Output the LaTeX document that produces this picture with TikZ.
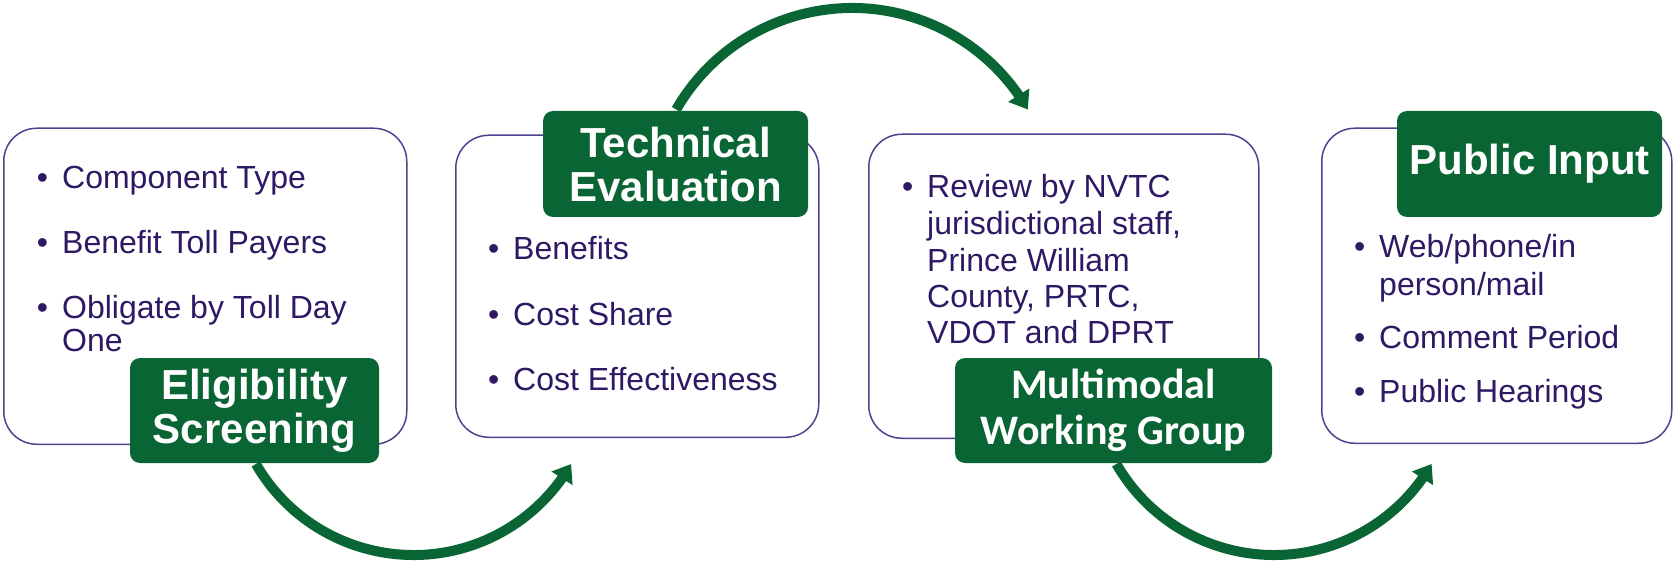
\documentclass[tikz,border=0pt]{standalone}
\usepackage{fontspec}
\setmainfont{Liberation Sans}
\newfontfamily\calfont{Carlito}
\usetikzlibrary{arrows.meta,bending}
\definecolor{grn}{RGB}{10,101,52}
\definecolor{txtpurple}{RGB}{46,26,100}
\definecolor{edgepurple}{RGB}{82,64,142}
\newcommand\bul{\llap{•\hspace{14pt}}}
\begin{document}
\begin{tikzpicture}[x=1pt,y=1pt,
  panel/.style={draw=edgepurple,line width=1.5pt,fill=white,rounded corners=33pt,anchor=south west,inner sep=0pt},
  tag/.style={fill=grn,rounded corners=10pt,text=white,align=center,inner sep=0pt,
    font=\fontsize{42}{44}\selectfont\bfseries},
  body/.style={text=txtpurple,font=\fontsize{32}{32}\selectfont,anchor=base west,inner sep=0pt},
  flow/.style={draw=grn,line width=10pt,-{Triangle[width=24pt,length=17pt]}}]
\useasboundingbox (0,0) rectangle (1673,563);

% panels
\node[panel,minimum width=403pt,minimum height=316pt] (p1) at (3,118) {};
\node[panel,minimum width=363pt,minimum height=302pt] (p2) at (455,125) {};
\node[panel,minimum width=390pt,minimum height=304pt] (p3) at (868,124) {};
\node[panel,minimum width=350pt,minimum height=315pt] (p4) at (1321,119) {};

% connectors
\coordinate (a1s) at (255.9,99);
\coordinate (a2s) at (676.2,453.5);
\coordinate (a3s) at (1116.4,99);
\draw[flow] (a1s) arc[start angle=210,end angle=330,radius=182];
\draw[flow] (a2s) arc[start angle=150,end angle=30,radius=203];
\draw[flow] (a3s) arc[start angle=210,end angle=330,radius=182];

% tags
\node[tag,minimum width=249pt,minimum height=105pt] (t1) at (254.5,152.5) {Eligibility\\Screening};
\node[tag,minimum width=265pt,minimum height=106pt] (t2) at (675.5,399) {Technical\\Evaluation};
\node[tag,minimum width=317pt,minimum height=105pt,font=\fontsize{42}{46}\selectfont\calfont\bfseries] (t3) at (1113.5,152.5) {Multimodal\\Working Group};
\node[tag,minimum width=265pt,minimum height=106pt] (t4) at (1529.5,399) {Public Input};

% panel 1 text
\node[body] (b1a) at (62,374) {\bul Component Type};
\node[body] (b1b) at (62,309) {\bul Benefit Toll Payers};
\node[body] (b1c) at (62,244) {\bul Obligate by Toll Day};
\node[body] (b1d) at (62,212) {One};

% panel 2 text
\node[body] (b2a) at (513,303) {\bul Benefits};
\node[body] (b2b) at (513,238) {\bul Cost Share};
\node[body] (b2c) at (513,173) {\bul Cost Effectiveness};

% panel 3 text
\node[body] (b3a) at (927,365) {\bul Review by NVTC};
\node[body] (b3b) at (927,328) {jurisdictional staff,};
\node[body] (b3c) at (927,291) {Prince William};
\node[body] (b3d) at (927,255) {County, PRTC,};
\node[body] (b3e) at (927,220) {VDOT and DPRT};

% panel 4 text
\node[body] (b4a) at (1379,305) {\bul Web/phone/in};
\node[body] (b4b) at (1379,268) {person/mail};
\node[body] (b4c) at (1379,215) {\bul Comment Period};
\node[body] (b4d) at (1379,161) {\bul Public Hearings};
\end{tikzpicture}
\end{document}
